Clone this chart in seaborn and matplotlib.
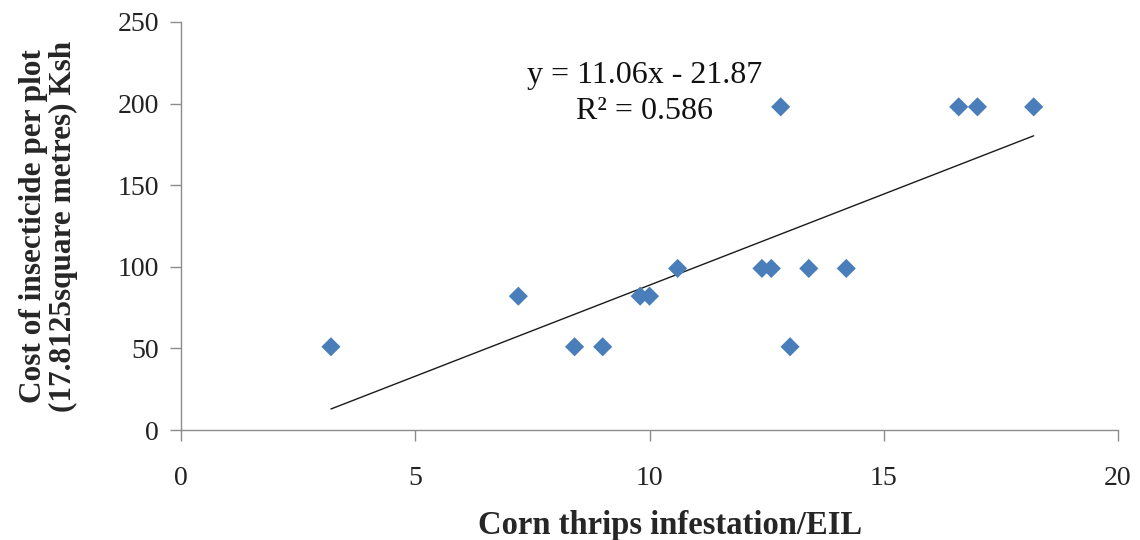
import numpy as np
import pandas as pd
import matplotlib
matplotlib.use("Agg")
import matplotlib.pyplot as plt
import seaborn as sns

# Data
infestation = [3.2, 7.2, 8.4, 9.0, 9.8, 10.0, 10.6, 12.4, 12.6, 12.8, 13.0, 13.4, 14.2, 16.6, 17.0, 18.2]
cost = [51, 82, 51, 51, 82, 82, 99, 99, 99, 198, 51, 99, 99, 198, 198, 198]
x_ticks = [0, 5, 10, 15, 20]
y_ticks = [0, 50, 100, 150, 200, 250]
equation_text = "y = 11.06x - 21.87"
r2_text = "R² = 0.586"

sns.set_theme(style="white")
plt.rcParams['font.family'] = ['Liberation Serif', 'DejaVu Serif']

df = pd.DataFrame({"x": infestation, "y": cost})

fig = plt.figure(figsize=(11.4, 5.4), dpi=100)
ax = fig.add_axes([0.1588, 0.2037, 0.8219, 0.7556])

sns.scatterplot(data=df, x="x", y="y", ax=ax, marker="D", s=95,
                color="#4A7EBB", edgecolor="none", zorder=3)

# linear trendline computed from the data
coef = np.polyfit(df["x"], df["y"], 1)
xs = np.array([df["x"].min(), df["x"].max()])
ax.plot(xs, np.polyval(coef, xs), color="#1a1a1a", lw=1.0, zorder=2)

ax.set_xlim(0, 20)
ax.set_ylim(0, 250)
ax.set_xticks(x_ticks)
ax.set_yticks(y_ticks)
ax.tick_params(axis="both", which="major", direction="out", length=8, width=1,
               color="#8c8c8c", labelsize=20, left=True, bottom=True)
ax.tick_params(axis="x", pad=18)
ax.tick_params(axis="y", pad=8)
for lab in ax.get_xticklabels() + ax.get_yticklabels():
    lab.set_color("#222222")

for s in ["top", "right"]:
    ax.spines[s].set_visible(False)
for s in ["left", "bottom"]:
    ax.spines[s].set_color("#8c8c8c")
    ax.spines[s].set_linewidth(1)

ax.set_xlabel("Corn thrips infestation/EIL", fontsize=23.5, fontweight="bold")
ax.xaxis.set_label_coords(0.522, -0.195)
ax.set_ylabel("Cost of insecticide per plot\n(17.8125square metres) Ksh", fontsize=22.5,
              fontweight="bold", linespacing=1.05)
ax.yaxis.set_label_coords(-0.11, 0.5)

ax.text(9.9, 217.5, equation_text, fontsize=23, ha="center", va="center", color="#111111")
ax.text(9.9, 195, r2_text, fontsize=23, ha="center", va="center", color="#111111")

fig.savefig("out.png", dpi=100)
